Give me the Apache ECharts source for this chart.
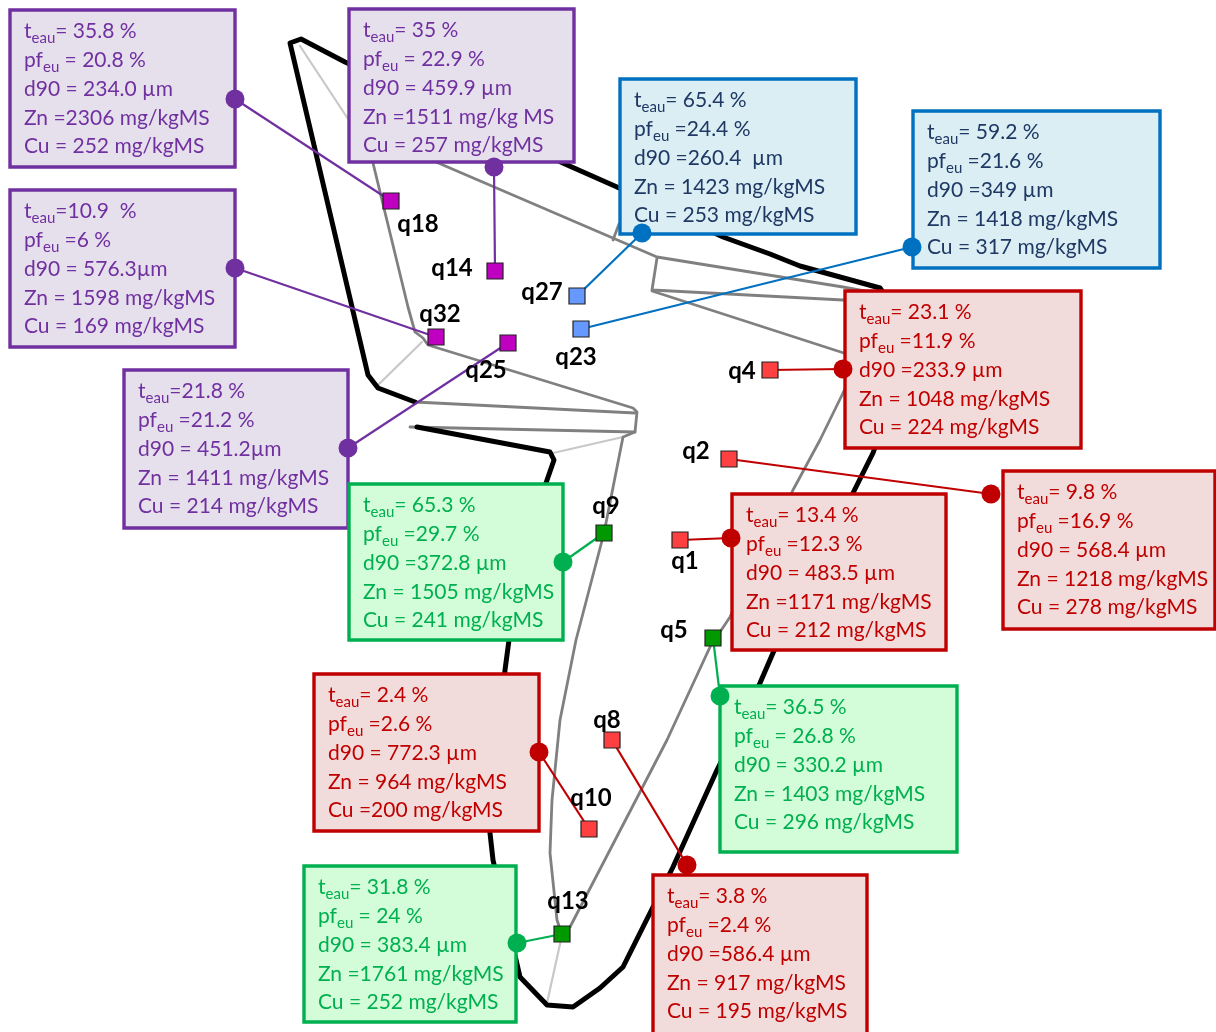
<!DOCTYPE html>
<html><head><meta charset="utf-8">
<script src="https://cdn.jsdelivr.net/npm/echarts@6/dist/echarts.min.js"></script>
<style>html,body{margin:0;padding:0;background:#fff}#c{width:1216px;height:1032px}</style>
</head><body><div id="c"></div>
<script>
// ---- sample data ----
const samples = ['q18','q14','q27','q23','q32','q25','q4','q2','q1','q9','q5','q10','q8','q13'];
const groups  = ['purple','purple','blue','blue','purple','purple','red','red','red','green','green','red','red','green'];
const tEau = ['35.8','35','65.4','59.2','10.9','21.8','23.1','9.8','13.4','65.3','36.5','2.4','3.8','31.8'];
const pfEu = ['20.8','22.9','24.4','21.6','6','21.2','11.9','16.9','12.3','29.7','26.8','2.6','2.4','24'];
const d90  = ['234.0','459.9','260.4','349','576.3','451.2','233.9','568.4','483.5','372.8','330.2','772.3','586.4','383.4'];
const zn   = ['2306','1511','1423','1418','1598','1411','1048','1218','1171','1505','1403','964','917','1761'];
const cu   = ['252','257','253','317','169','214','224','278','212','241','296','200','195','252'];
// text templates (spacing as written in the figure)
const tplT  = ['= {v} %','= {v} %','= {v} %','= {v} %','={v}  %','={v} %','= {v} %','= {v} %','= {v} %','= {v} %','= {v} %','= {v} %','= {v} %','= {v} %'];
const tplPf = [' = {v} %',' = {v} %',' ={v} %',' ={v} %',' ={v} %',' ={v} %',' ={v} %',' ={v} %',' ={v} %',' ={v} %',' = {v} %',' ={v} %',' ={v} %',' = {v} %'];
const tplD  = ['d90 = {v} µm','d90 = {v} µm','d90 ={v}  µm','d90 ={v} µm','d90 = {v}µm','d90 = {v}µm','d90 ={v} µm','d90 = {v} µm','d90 = {v} µm','d90 ={v} µm','d90 = {v} µm','d90 = {v} µm','d90 ={v} µm','d90 = {v} µm'];
const tplZn = ['Zn ={v} mg/kgMS','Zn ={v} mg/kg MS','Zn = {v} mg/kgMS','Zn = {v} mg/kgMS','Zn = {v} mg/kgMS','Zn = {v} mg/kgMS','Zn = {v} mg/kgMS','Zn = {v} mg/kgMS','Zn ={v} mg/kgMS','Zn = {v} mg/kgMS','Zn = {v} mg/kgMS','Zn = {v} mg/kgMS','Zn = {v} mg/kgMS','Zn ={v} mg/kgMS'];
const tplCu = ['Cu = {v} mg/kgMS','Cu = {v} mg/kgMS','Cu = {v} mg/kgMS','Cu = {v} mg/kgMS','Cu = {v} mg/kgMS','Cu = {v} mg/kgMS','Cu = {v} mg/kgMS','Cu = {v} mg/kgMS','Cu = {v} mg/kgMS','Cu = {v} mg/kgMS','Cu = {v} mg/kgMS','Cu ={v} mg/kgMS','Cu = {v} mg/kgMS','Cu = {v} mg/kgMS'];

// sampling point locations (diagram coordinates)
const pointX = [391,495,577,581,436,508,770,729,680,604,713,589,612,562];
const pointY = [201,271,296,329,337,343,370,459,540,533,638,829,740,934];

// ---- diagram outline ----
const outlineBlack = [[415,402],[378,388],[368,375],[290,43],[301,39],[345,62],[565,164],[617,187],[723,237],[770,254],[800,266],[880,288],[895,310],[885,420],[873,453],[853,493],[773,653],[760,683],[717,770],[673,867],[650,913],[623,967],[600,988],[573,1007],[547,1005],[520,977],[493,860],[490,833],[505,670],[509,640],[546,483],[554,460],[550,452],[417,427]];
const grayA = [[365,130],[373,163],[408,307],[415,332],[423,338],[428,345],[633,408],[637,412],[635,432],[623,437],[604,533],[576,640],[560,720],[552,800],[550,853],[557,920],[562,935]];
const grayB = [[415,402],[635,413]];
const grayC = [[410,427],[635,432]];
const grayD = [[420,155],[443,165],[657,257],[843,287],[870,292]];
const grayE = [[657,258],[652,290],[843,300],[870,303]];
const grayF = [[652,291],[850,355]];
const grayG = [[850,380],[843,393],[820,440],[793,490],[761,555],[730,617],[710,647],[667,740],[570,927],[562,935]];
const grayH = [[613,240],[619,224]];
const lightA = [[300,46],[352,125]];
const lightB = [[377,386],[422,342]];
const lightC = [[553,453],[623,437]];
const lightD = [[562,935],[547,1003]];

// ---- layout of annotation boxes ----
const boxL = [10,349,620,913,10,124,845,1003,732,349,720,314,653,304];
const boxT = [10,9,79,111,190,370,291,471,494,484,686,674,875,866];
const boxR = [235,574,856,1160,235,348,1081,1215,946,563,957,539,867,516];
const boxB = [167,162,234,268,347,528,448,629,650,640,852,831,1034,1022];
const dotX = [235,494,642,912,235,348,843,991,731,563,720,539,687,517];
const dotY = [99,167,233,247,268,448,369,494,538,562,696,752,865,943];
const labelX = [418,452,542,576,440,486,742,696,685,606,674,591,607,568];
const labelY = [224,268,292,357,314,370,371,451,561,506,630,798,720,901];

const palette = {
  purple: {border:'#7030A0', fill:'#E6E0EC', text:'#7030A0', marker:'#C000C0'},
  blue:   {border:'#0070C0', fill:'#DAEEF3', text:'#1F3864', marker:'#6699FF'},
  red:    {border:'#C00000', fill:'#F2DCDB', text:'#C00000', marker:'#FF4040'},
  green:  {border:'#00B050', fill:'#D3FCD8', text:'#00B050', marker:'#009900'}
};

const fill = (t, v) => t.replace('{v}', v);
function boxText(i) {
  return [
    '{n|t}{s|eau}{n|' + fill(tplT[i], tEau[i]) + '}',
    '{n|pf}{s|eu}{n|' + fill(tplPf[i], pfEu[i]) + '}',
    '{n|' + fill(tplD[i], d90[i]) + '}',
    '{n|' + fill(tplZn[i], zn[i]) + '}',
    '{n|' + fill(tplCu[i], cu[i]) + '}'
  ].join('\n');
}

const LH = 28.8;
function lineSeries(data, color, width, z) {
  return {type:'line', data, symbol:'none', silent:true, animation:false, z,
          lineStyle:{color, width, cap:'round', join:'round'}};
}

const chart = echarts.init(document.getElementById('c'), null, {renderer:'canvas'});
const option = {
  backgroundColor:'#ffffff',
  animation:false,
  grid:{left:0, right:0, top:0, bottom:0},
  xAxis:{type:'value', min:0, max:1216, show:false},
  yAxis:{type:'value', min:0, max:1032, inverse:true, show:false},
  series:[
    lineSeries(lightA,'#C8C8C8',2.2,1),
    lineSeries(lightB,'#C8C8C8',2.2,1),
    lineSeries(lightC,'#C8C8C8',2.2,1),
    lineSeries(lightD,'#C8C8C8',2.2,1),
    lineSeries(grayA,'#808080',2.8,1),
    lineSeries(grayB,'#808080',2.8,1),
    lineSeries(grayC,'#808080',2.8,1),
    lineSeries(grayD,'#808080',2.8,1),
    lineSeries(grayE,'#808080',2.8,1),
    lineSeries(grayF,'#808080',2.8,1),
    lineSeries(grayG,'#808080',2.8,1),
    lineSeries(grayH,'#808080',2.8,1),
    lineSeries(outlineBlack,'#000000',5,2),
    {
      type:'lines', coordinateSystem:'cartesian2d', z:3, silent:true, animation:false,
      data: samples.map((s,i)=>({coords:[[pointX[i],pointY[i]],[dotX[i],dotY[i]]],
        lineStyle:{color:palette[groups[i]].border, width:2.2, opacity:1}}))
    },
    {
      type:'custom', z:4, silent:true, animation:false,
      data: samples.map((s,i)=>[boxL[i],boxT[i],boxR[i],boxB[i]]),
      renderItem:(params, api)=>{
        const i = params.dataIndex;
        const p0 = api.coord([api.value(0), api.value(1)]);
        const p1 = api.coord([api.value(2), api.value(3)]);
        const c = palette[groups[i]];
        return {type:'group', children:[
          {type:'rect', shape:{x:p0[0], y:p0[1], width:p1[0]-p0[0], height:p1[1]-p0[1]},
           style:{fill:c.fill, stroke:c.border, lineWidth:3.4}},
          {type:'text', style:{x:p0[0]+14, y:p0[1]+7, text:boxText(i), align:'left', verticalAlign:'top',
            lineHeight:LH, fill:c.text, font:'21px Lato',
            rich:{
              n:{font:'21px Lato', fill:c.text, lineHeight:LH},
              s:{font:'15px Lato', fill:c.text, lineHeight:LH, verticalAlign:'bottom', padding:[0,0,0,0]}
            }}}
        ]};
      }
    },
    {
      type:'scatter', z:5, silent:true, animation:false, symbol:'circle', symbolSize:19,
      data: samples.map((s,i)=>({value:[dotX[i],dotY[i]], itemStyle:{color:palette[groups[i]].border, opacity:1}}))
    },
    {
      type:'scatter', z:6, silent:true, animation:false, symbol:'rect', symbolSize:16,
      data: samples.map((s,i)=>({value:[pointX[i],pointY[i]], itemStyle:{color:palette[groups[i]].marker, borderColor:'#222', borderWidth:1.2, opacity:1}}))
    },
    {
      type:'custom', z:7, silent:true, animation:false,
      data: samples.map((s,i)=>[labelX[i],labelY[i]]),
      renderItem:(params, api)=>{
        const p = api.coord([api.value(0), api.value(1)]);
        return {type:'text', style:{x:p[0], y:p[1], text:samples[params.dataIndex], align:'center', verticalAlign:'middle',
          font:'bold 24px Lato', fill:'#000'}};
      }
    }
  ]
};
chart.setOption(option);
</script>
</body></html>
